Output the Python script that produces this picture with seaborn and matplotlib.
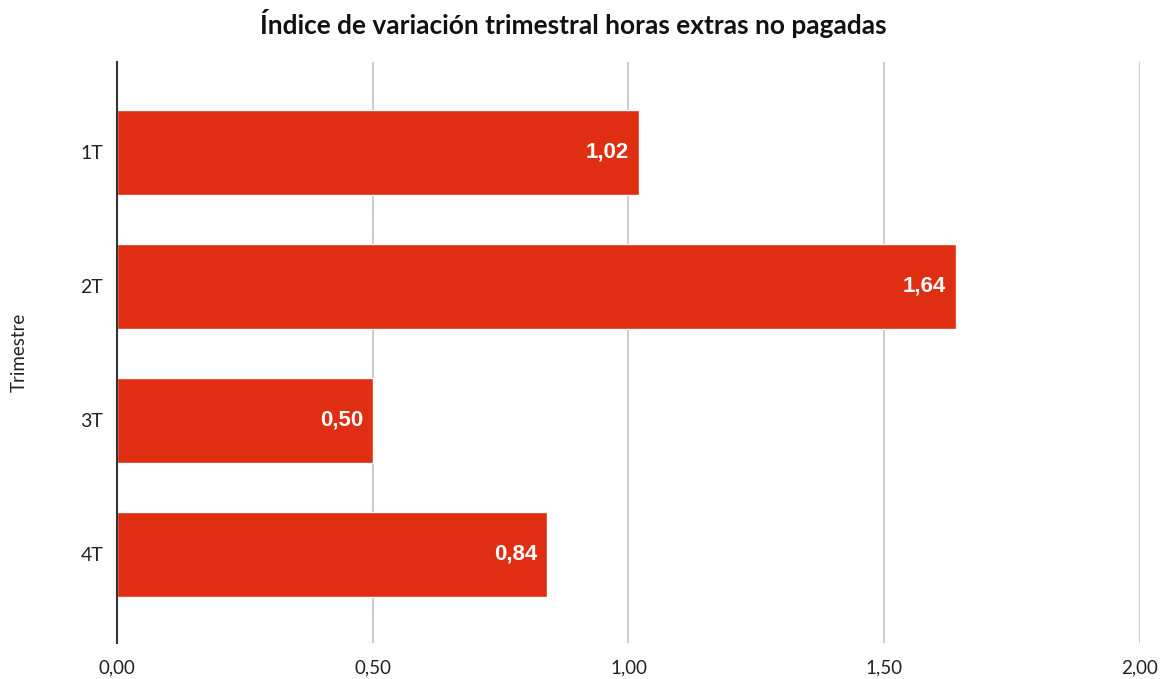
import matplotlib
matplotlib.use("Agg")
import matplotlib.pyplot as plt
import seaborn as sns
import pandas as pd

trimestres = ["1T", "2T", "3T", "4T"]
valores = [1.02, 1.64, 0.50, 0.84]
xticks = [0.0, 0.5, 1.0, 1.5, 2.0]
titulo = "Índice de variación trimestral horas extras no pagadas"

sns.set_theme(style="white")
plt.rcParams['font.family'] = ['Lato', 'DejaVu Sans']

df = pd.DataFrame({"Trimestre": trimestres, "valor": valores})

fig = plt.figure(figsize=(11.68, 6.79), dpi=100)
ax = fig.add_axes([0.1002, 0.053, 0.8757, 0.8557])

sns.barplot(data=df, x="valor", y="Trimestre", orient="h", color="#e02e12",
            saturation=1, width=0.634, ax=ax, zorder=3)

ax.set_xlim(0, 2.0)
ax.set_ylim(3.664, -0.672)
ax.set_xticks(xticks)
ax.set_xticklabels([f"{v:.2f}".replace(".", ",") for v in xticks], fontsize=13.5, color="#222222")
ax.tick_params(axis="y", labelsize=14, labelcolor="#222222", length=0, pad=10)
ax.tick_params(axis="x", length=0, pad=12)
ax.xaxis.grid(True, color="#cccccc", linewidth=1.5, zorder=0)
ax.yaxis.grid(False)
for s in ["top", "right", "bottom"]:
    ax.spines[s].set_visible(False)
ax.spines["left"].set_color("#333333")
ax.spines["left"].set_linewidth(1.5)
ax.spines["left"].set_zorder(5)

ax.set_xlabel("")
ax.set_ylabel("Trimestre", fontsize=13.5, color="#222222", labelpad=38)

for i, v in enumerate(valores):
    ax.annotate(f"{v:.2f}".replace(".", ","), xy=(v, i), xytext=(-7, 0),
                textcoords="offset points", ha="right", va="center",
                color="white", fontsize=16, fontweight="bold",
                family=["Liberation Sans", "DejaVu Sans"], zorder=6)

fig.text(0.4906, 0.966, titulo, ha="center", va="center", fontsize=18.9,
         fontweight="bold", color="#111111")

fig.savefig("out.png", dpi=100, facecolor="white")
